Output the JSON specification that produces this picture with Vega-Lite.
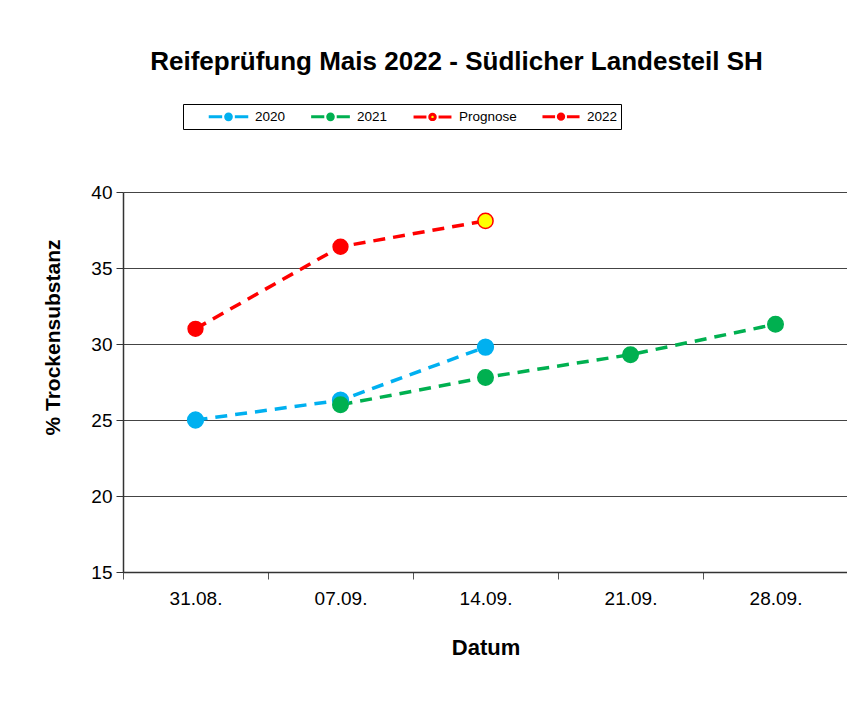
{
  "$schema": "https://vega.github.io/schema/vega-lite/v6.json",
  "autosize": {"type": "none"},
  "padding": {"left": 123, "top": 192, "right": 0, "bottom": 134},
  "width": 725,
  "height": 380,
  "background": "white",
  "config": {
    "font": "Liberation Sans",
    "view": {"stroke": null}
  },
  "title": {
    "text": "Reifeprüfung Mais 2022 - Südlicher Landesteil SH",
    "fontSize": 26,
    "fontWeight": "bold",
    "color": "#000000",
    "offset": 29,
    "dx": -29
  },
  "data": {
    "values": [
      {"datum": "31.08.", "serie": "2020", "kurve": "2020", "wert": 25.0},
      {"datum": "07.09.", "serie": "2020", "kurve": "2020", "wert": 26.3},
      {"datum": "14.09.", "serie": "2020", "kurve": "2020", "wert": 29.8},
      {"datum": "07.09.", "serie": "2021", "kurve": "2021", "wert": 26.0},
      {"datum": "14.09.", "serie": "2021", "kurve": "2021", "wert": 27.8},
      {"datum": "21.09.", "serie": "2021", "kurve": "2021", "wert": 29.3},
      {"datum": "28.09.", "serie": "2021", "kurve": "2021", "wert": 31.3},
      {"datum": "31.08.", "serie": "2022", "kurve": "2022", "wert": 31.0},
      {"datum": "07.09.", "serie": "2022", "kurve": "2022", "wert": 36.4},
      {"datum": "14.09.", "serie": "Prognose", "kurve": "2022", "wert": 38.1}
    ]
  },
  "encoding": {
    "x": {
      "field": "datum",
      "type": "ordinal",
      "sort": ["31.08.", "07.09.", "14.09.", "21.09.", "28.09."],
      "scale": {"domain": ["31.08.", "07.09.", "14.09.", "21.09.", "28.09."], "paddingInner": 0, "paddingOuter": 0},
      "axis": {
        "title": "Datum",
        "titleFontSize": 22,
        "titleFontWeight": "bold",
        "titleColor": "#000000",
        "titlePadding": 29,
        "labelAngle": 0,
        "labelFontSize": 19,
        "labelColor": "#000000",
        "labelPadding": 10,
        "tickBand": "extent",
        "tickSize": 7,
        "tickColor": "#555555",
        "domainColor": "#333333",
        "domainWidth": 1.5,
        "grid": false
      }
    },
    "y": {
      "field": "wert",
      "type": "quantitative",
      "scale": {"domain": [15, 40], "nice": false, "zero": false},
      "axis": {
        "title": "% Trockensubstanz",
        "titleFontSize": 21,
        "titleFontWeight": "bold",
        "titleColor": "#000000",
        "titleX": -60,
        "titleY": 145,
        "values": [15, 20, 25, 30, 35, 40],
        "labelFontSize": 19,
        "labelColor": "#000000",
        "labelPadding": 4,
        "tickSize": 7,
        "tickColor": "#333333",
        "domainColor": "#333333",
        "domainWidth": 1.5,
        "grid": true,
        "gridColor": "#444444",
        "gridWidth": 1.2
      }
    }
  },
  "layer": [
    {
      "mark": {"type": "line", "strokeWidth": 3.5, "strokeDash": [12, 8]},
      "encoding": {
        "detail": {"field": "kurve"},
        "color": {
          "field": "kurve",
          "type": "nominal",
          "scale": {"domain": ["2020", "2021", "Prognose", "2022"], "range": ["#00B0F0", "#00B050", "#FF0000", "#FF0000"]},
          "legend": {
            "title": null,
            "orient": "none",
            "legendX": 60,
            "legendY": -88,
            "direction": "horizontal",
            "strokeColor": "#000000",
            "padding": 3,
            "labelFontSize": 13.5,
            "labelColor": "#000000",
            "labelOffset": 17,
            "labelExpr": "datum.label == 'Prognose' ? 'Prognose    ' : (datum.label == '2022' ? '2022  ' : datum.label)",
            "columnPadding": 2,
            "symbolOffset": 33,
            "symbolType": "M-2.5,0H-0.8M0.8,0H2.5M0.36,0A0.36,0.36 0 1,1 -0.36,0A0.36,0.36 0 1,1 0.36,0Z",
            "symbolSize": 25,
            "symbolStrokeWidth": 3,
            "symbolDash": [1, 0],
            "encode": {
              "symbols": {
                "update": {
                  "fill": {"signal": "datum.value === 'Prognose' ? '#FFFF00' : scale('color', datum.value)"},
                  "fillOpacity": {"value": 1},
                  "strokeDash": {"value": []}
                }
              }
            }
          }
        }
      }
    },
    {
      "mark": {"type": "point", "shape": "circle", "filled": true, "opacity": 1, "strokeWidth": 1.5},
      "encoding": {
        "fill": {
          "field": "serie",
          "type": "nominal",
          "scale": {"domain": ["2020", "2021", "Prognose", "2022"], "range": ["#00B0F0", "#00B050", "#FFFF00", "#FF0000"]},
          "legend": null
        },
        "stroke": {
          "field": "serie",
          "type": "nominal",
          "scale": {"domain": ["2020", "2021", "Prognose", "2022"], "range": ["#00B0F0", "#00B050", "#FF0000", "#FF0000"]},
          "legend": null
        },
        "size": {
          "field": "serie",
          "type": "nominal",
          "scale": {"domain": ["2020", "2021", "Prognose", "2022"], "range": [250, 220, 300, 320]},
          "legend": null
        }
      }
    }
  ]
}
